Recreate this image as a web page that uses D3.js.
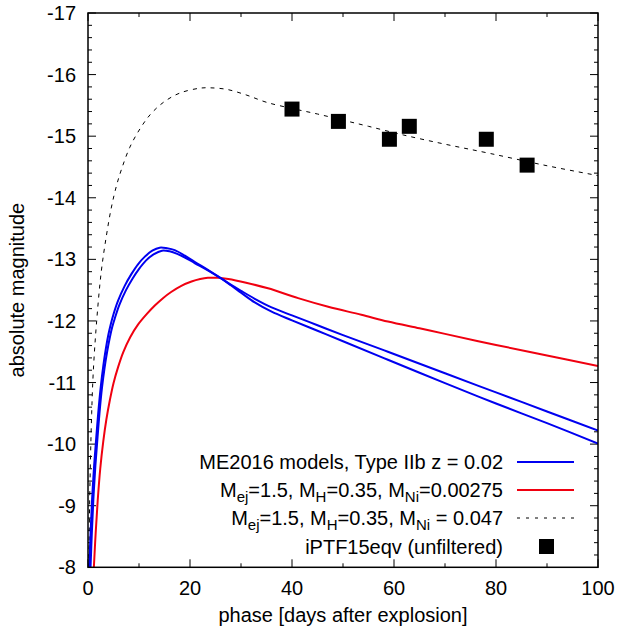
<!DOCTYPE html>
<html><head><meta charset="utf-8">
<script src="https://cdn.jsdelivr.net/npm/d3@7"></script>
<style>html,body{margin:0;padding:0;background:#fff;}svg text{font-family:"Liberation Sans",Arial,Helvetica,sans-serif;}</style>
</head><body>
<svg id="c" width="620" height="630"></svg>
<script>
// Model curve: blue A (brighter peak)
const blueADays = [0.25,0.5,0.8,1.2,1.63,2.0,2.5,3.0,3.5,4.0,4.5,5.0,5.9,7.2,8.5,9.8,11.1,12.6,14.05,15.5,17,19,20.9,23.5,26.1,28,30,32.7,36,40,45,50,58.8,70,80,90,100];
const blueAMags = [-8.0,-8.55,-9.1,-9.65,-10.12,-10.5,-10.93,-11.27,-11.55,-11.78,-11.96,-12.11,-12.33,-12.57,-12.76,-12.92,-13.04,-13.14,-13.19,-13.18,-13.15,-13.06,-12.96,-12.83,-12.69,-12.58,-12.46,-12.3,-12.15,-12.01,-11.84,-11.67,-11.37,-10.99,-10.66,-10.34,-10.01];
// Model curve: blue B (fainter peak)
const blueBDays = [0.5,0.75,1.05,1.45,1.88,2.25,2.75,3.25,3.75,4.25,4.75,5.25,6.15,7.45,8.75,10.05,11.35,12.85,14.5,16,17.5,19,20.9,23.5,26.1,28,30,32.7,36,40,45,50,58.8,70,80,90,100];
const blueBMags = [-8.0,-8.55,-9.1,-9.65,-10.12,-10.5,-10.92,-11.24,-11.5,-11.72,-11.9,-12.04,-12.26,-12.5,-12.69,-12.85,-12.98,-13.08,-13.14,-13.13,-13.09,-13.03,-12.94,-12.82,-12.69,-12.59,-12.49,-12.36,-12.22,-12.09,-11.93,-11.77,-11.5,-11.15,-10.84,-10.53,-10.22];
// Model curve: red (M_Ni = 0.00275)
const redDays = [1.15,1.5,1.9,2.4,3.0,3.6,4.3,5.0,5.9,6.9,8.3,9.8,11.5,13.1,14.7,16.3,18.3,20.3,22,23.5,25.5,27.5,31,35.3,41.2,47.1,53.6,58.8,65,70,80,90,100];
const redMags = [-8.0,-8.55,-9.08,-9.6,-10.05,-10.4,-10.72,-10.99,-11.25,-11.49,-11.74,-11.94,-12.11,-12.25,-12.37,-12.47,-12.57,-12.64,-12.68,-12.70,-12.70,-12.68,-12.62,-12.53,-12.37,-12.23,-12.1,-11.99,-11.88,-11.79,-11.61,-11.44,-11.27];
// Model curve: black dashed (M_Ni = 0.047)
const dashDays = [0.12,0.2,0.4,0.72,1.05,1.7,2.6,3.6,4.6,5.6,6.6,8.2,10.2,12.2,14.8,18,22,24,27.2,31,35,40,45,50,55,61.8,70,78.8,90,100];
const dashMags = [-8.0,-8.34,-9.42,-10.5,-11.2,-12.0,-12.8,-13.38,-13.85,-14.2,-14.47,-14.82,-15.12,-15.35,-15.55,-15.7,-15.78,-15.785,-15.76,-15.67,-15.55,-15.45,-15.36,-15.26,-15.16,-15.02,-14.87,-14.72,-14.52,-14.36];
// Observed photometry iPTF15eqv
const obsDays = [40.0,49.1,59.1,63.0,78.1,86.1];
const obsMags = [-15.44,-15.24,-14.95,-15.16,-14.95,-14.53];

const xTicks = [0,20,40,60,80,100];
const xMinor = [10,30,50,70,90];
const yTicks = [-17,-16,-15,-14,-13,-12,-11,-10,-9,-8];

const legendRows = [
  {parts:[["ME2016 models, Type IIb z = 0.02",0]], kind:"blue"},
  {parts:[["M",0],["ej",1],["=1.5, M",0],["H",1],["=0.35, M",0],["Ni",1],["=0.00275",0]], kind:"red"},
  {parts:[["M",0],["ej",1],["=1.5, M",0],["H",1],["=0.35, M",0],["Ni",1],[" = 0.047",0]], kind:"dash"},
  {parts:[["iPTF15eqv (unfiltered)",0]], kind:"square"}
];

const BLUE = "#0000f0", RED = "#f00010";
const L = 88, R = 598, T = 13, B = 567.3;
const svg = d3.select("#c");
const x = d3.scaleLinear().domain([0,100]).range([L,R]);
const y = d3.scaleLinear().domain([-17,-8]).range([T,B]);

svg.append("defs").append("clipPath").attr("id","clip").append("rect")
  .attr("x",L).attr("y",T).attr("width",R-L).attr("height",B-T);

// ticks (inward, mirrored)
const tg = svg.append("g").attr("stroke","#000").attr("stroke-width",1);
const yMinor = d3.range(-17,-8.001,0.2).map(v=>+v.toFixed(2));
yMinor.forEach(v=>{
  const major = Math.abs(v-Math.round(v))<1e-6;
  const len = major?8:4;
  tg.append("line").attr("x1",L).attr("x2",L+len).attr("y1",y(v)).attr("y2",y(v));
  tg.append("line").attr("x1",R).attr("x2",R-len).attr("y1",y(v)).attr("y2",y(v));
});
xTicks.concat(xMinor).forEach(v=>{
  const len = xTicks.includes(v)?8:4;
  tg.append("line").attr("x1",x(v)).attr("x2",x(v)).attr("y1",B).attr("y2",B-len);
  tg.append("line").attr("x1",x(v)).attr("x2",x(v)).attr("y1",T).attr("y2",T+len);
});

// tick labels
const fs = 20;
svg.append("g").selectAll("text").data(yTicks).join("text")
  .attr("x",L-12).attr("y",d=>y(d)+7).attr("text-anchor","end")
  .attr("font-size",fs).attr("fill","#000").text(d=>d);
svg.append("g").selectAll("text").data(xTicks).join("text")
  .attr("x",d=>x(d)).attr("y",595).attr("text-anchor","middle")
  .attr("font-size",fs).attr("fill","#000").text(d=>d);

// axis titles
svg.append("text").attr("x",(L+R)/2).attr("y",622).attr("text-anchor","middle")
  .attr("font-size",fs).text("phase [days after explosion]");
svg.append("text").attr("transform",`translate(24,${(T+B)/2}) rotate(-90)`)
  .attr("text-anchor","middle").attr("font-size",fs).text("absolute magnitude");

// curves
const line = d3.line().x(d=>x(d[0])).y(d=>y(d[1])).curve(d3.curveCatmullRom.alpha(0.5));
const cg = svg.append("g").attr("clip-path","url(#clip)").attr("fill","none");
cg.append("path").datum(d3.zip(dashDays,dashMags)).attr("d",line)
  .attr("stroke","#000").attr("stroke-width",1).attr("stroke-dasharray","4,5");
cg.append("path").datum(d3.zip(redDays,redMags)).attr("d",line)
  .attr("stroke",RED).attr("stroke-width",2);
cg.append("path").datum(d3.zip(blueADays,blueAMags)).attr("d",line)
  .attr("stroke",BLUE).attr("stroke-width",2);
cg.append("path").datum(d3.zip(blueBDays,blueBMags)).attr("d",line)
  .attr("stroke",BLUE).attr("stroke-width",2);

// observed points
const sq = 15;
svg.append("g").selectAll("rect").data(d3.zip(obsDays,obsMags)).join("rect")
  .attr("x",d=>x(d[0])-sq/2).attr("y",d=>y(d[1])-sq/2).attr("width",sq).attr("height",sq).attr("fill","#000");

// legend
const lg = svg.append("g");
const rowY = [462, 490, 518, 546.5];
legendRows.forEach((row,i)=>{
  const t = lg.append("text").attr("x",503).attr("y",rowY[i]+7).attr("text-anchor","end").attr("font-size",fs);
  let prevSub = 0;
  row.parts.forEach(([s,sub])=>{
    const ts = t.append("tspan").text(s);
    if(sub) ts.attr("font-size",15);
    ts.attr("dy", sub&&!prevSub?5:(!sub&&prevSub?-5:0));
    prevSub = sub;
  });
  const ly = rowY[i];
  if(row.kind==="blue"||row.kind==="red"){
    lg.append("line").attr("x1",517).attr("x2",574).attr("y1",ly).attr("y2",ly)
      .attr("stroke",row.kind==="blue"?BLUE:RED).attr("stroke-width",2);
  } else if(row.kind==="dash"){
    lg.append("line").attr("x1",517).attr("x2",574).attr("y1",ly).attr("y2",ly)
      .attr("stroke","#000").attr("stroke-width",1).attr("stroke-dasharray","3,6");
  } else {
    lg.append("rect").attr("x",546.5-sq/2).attr("y",ly-sq/2).attr("width",sq).attr("height",sq).attr("fill","#000");
  }
});

// frame
svg.append("rect").attr("x",L).attr("y",T).attr("width",R-L).attr("height",B-T)
  .attr("fill","none").attr("stroke","#000").attr("stroke-width",1.5);
</script>
</body></html>
